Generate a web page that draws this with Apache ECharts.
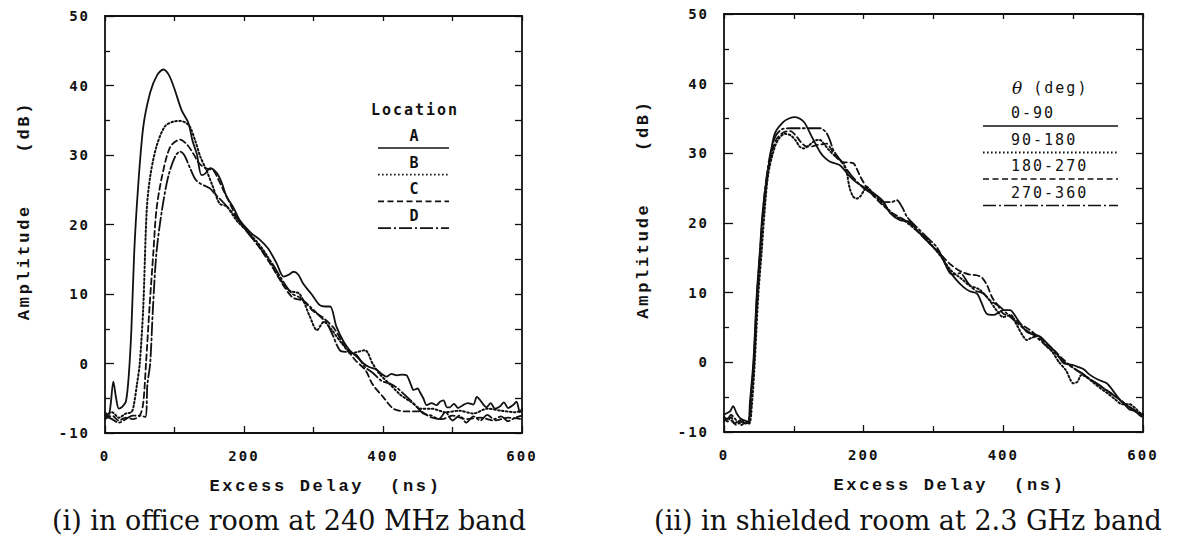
<!DOCTYPE html>
<html>
<head>
<meta charset="utf-8">
<script src="https://cdn.jsdelivr.net/npm/echarts@6/dist/echarts.min.js"></script>
<style>
html,body{margin:0;padding:0;background:#fff;}
#chart{width:1177px;height:542px;}
#chart text[style*="Liberation Mono"]{letter-spacing:2.7px;}
#chart text[style*="DejaVu Sans Mono"]{letter-spacing:2px;}
</style>
</head>
<body>
<div id="chart"></div>
<script>
// ---------- DATA ----------
const xTicks = [0, 200, 400, 600];
const yTicks = [-10, 0, 10, 20, 30, 40, 50];
const leftLegendTitle = 'Location';
const leftNames = ['A', 'B', 'C', 'D'];
const rightLegendTitle = 'θ (deg)';
const rightNames = ['0-90', '90-180', '180-270', '270-360'];
const captions = ['(i) in office room at 240 MHz band', '(ii) in shielded room at 2.3 GHz band'];

// (i) office room, 240 MHz : [delay ns, amplitude dB]
const leftA = [[0,-7],[5,-7.5],[8,-6],[12,-2.6],[16,-5],[20,-6.5],[25,-6.2],[30,-5.5],[34,-2],[38,5],[42,15.9],[47,24.5],[55,34],[65,39],[75,41.5],[84,42.3],[92,41.5],[100,39.5],[110,36.5],[120,34.6],[126,32],[132,30.2],[139,27.1],[145,27.4],[151,28.1],[161,27.4],[168,26],[175,24],[185,22.4],[194,20.6],[210,18.8],[223,17.8],[235,16.5],[247,14.4],[257,12.5],[265,12.8],[271,13.2],[278,12.8],[285,11.5],[297,10],[309,8.4],[317,8.2],[324,8.2],[333,5.3],[343,3.2],[352,1.9],[362,1],[372,0],[380,-0.5],[391,-0.9],[398,-1.5],[405,-1.9],[412,-1.5],[420,-1.7],[428,-1.6],[434,-1.7],[440,-3],[444,-3.8],[450,-3.6],[453,-4.1],[458,-5],[463,-6],[470,-5.7],[477,-6],[482,-5.5],[487,-5.3],[492,-6.3],[496,-6.3],[502,-5.8],[508,-6.4],[515,-6],[522,-5.7],[530,-5.9],[535,-4.8],[540,-5.3],[545,-6],[549,-6.3],[555,-5.7],[561,-6.5],[568,-6.2],[574,-5.6],[580,-6.4],[587,-6],[592,-5.5],[597,-7],[600,-6.5]];
const leftB = [[0,-7.5],[10,-7],[20,-7.8],[30,-7.2],[38,-7],[41,-6.2],[46,-3],[50,0],[55,8],[60,22],[65,26.9],[74,31.2],[86,34.1],[98,34.8],[108,34.9],[115,34.7],[122,34.1],[130,32],[137,29.8],[146,27.8],[155,25.5],[165,23],[175,22.6],[190,20.5],[210,18.5],[230,16],[250,12.5],[265,10.5],[280,10],[295,6.7],[305,4.8],[315,6],[325,5],[340,3],[355,1.5],[374,1.9],[385,0],[395,-1.5],[410,-3],[425,-4.5],[440,-5.5],[455,-6.5],[470,-6.5],[490,-7],[510,-6.8],[530,-7.2],[550,-6.5],[570,-6.8],[590,-7],[600,-6.8]];
const leftC = [[0,-8],[10,-7.5],[20,-8.2],[30,-7.8],[40,-8],[50,-7.5],[55,-5.7],[59,0],[64,8],[69.5,15.9],[74,22.1],[82,26.9],[94,31.2],[108,32.2],[118,31.5],[127,30.2],[134,29],[141,28.3],[148,28],[156,27.8],[163,26.5],[170,25],[180,23],[189,21.1],[205,19],[220,17],[240,14],[255,11.5],[270,9.5],[285,9],[300,7.5],[315,6.5],[330,5],[345,2.5],[360,0.5],[375,-1],[385,-3],[400,-4.8],[415,-6.5],[434,-6.9],[453,-6.9],[468,-7.7],[485,-8],[500,-7.5],[520,-8],[540,-7.8],[560,-8.2],[580,-7.8],[600,-8]];
const leftD = [[0,-7.5],[10,-8],[20,-8.5],[30,-8],[40,-7.5],[50,-7.5],[58,-7.7],[61,-3],[65,0],[69,8],[74,15.9],[82,22.1],[91,26.9],[101,29.8],[108,30.5],[114,30],[122,28.2],[130,26.5],[137,25.9],[145,25.5],[151,25.2],[160,24.2],[170,23.2],[185,21.5],[200,19.5],[220,17],[240,14.5],[252,12.5],[268.6,10.1],[280,9.5],[295,8.2],[307,7],[319,5.8],[328,4],[338,1.9],[350,1.6],[362,1.2],[374,-0.5],[386,-1.4],[398,-2.5],[410,-2.9],[420,-3.5],[429,-4.3],[443.6,-5.7],[458,-7.2],[470,-7.5],[480,-8],[490,-7],[500,-8.2],[510,-7.5],[520,-8.5],[530,-7.6],[540,-8.2],[550,-7.4],[560,-8],[570,-7.6],[580,-8.3],[590,-7.8],[600,-7.5]];

// (ii) shielded room, 2.3 GHz
const right1 = [[0,-7.5],[4,-7.3],[9,-7],[13,-6.3],[18,-7.3],[23,-8],[28,-8.3],[35,-8.5],[37,-5.9],[42,0],[47,9.9],[51.5,16.1],[54,20],[58.7,24.7],[66,29.5],[73,32.9],[85,34.5],[93,35],[101.7,35.2],[110,34.9],[116,34.3],[125.6,32.4],[137.5,30.2],[145,29.3],[152,28.8],[166,28.3],[180,26.7],[190,25.8],[199.5,25.2],[214,24.3],[228,23.1],[238,21.4],[252,20.4],[266,20.2],[276,19],[290,17.5],[300,16.5],[309,15.7],[320,13.5],[333,11.8],[343,10.8],[352,10.2],[362,9.9],[369,8.5],[376,7],[386,6.8],[394,7.2],[400,7.5],[409.6,7.5],[418,6.5],[426,5.3],[433.5,4.4],[443,4],[452.5,3.7],[462,2.8],[471.6,1.8],[479,0.9],[486,-0.1],[494,-0.3],[500,-0.4],[508,-0.7],[515,-1],[524,-1.8],[536,-2.5],[548,-3],[558,-4.2],[567,-5.4],[574,-6.1],[581,-6.8],[586,-6.9],[591,-7.2],[595,-7.6],[598,-7.8],[600,-7.5]];
const right2 = [[0,-8],[5,-8.5],[10,-7.8],[15,-8.8],[20,-8.5],[25,-9],[30,-8.7],[36,-8.8],[40,-6],[44,0],[49,9.5],[54,16],[58,21.5],[63.5,27.1],[73,31],[80,32.3],[87,32.8],[95,32.6],[103,31.8],[108,31],[113.6,30.7],[120,31],[127,31.6],[133,31.9],[137.5,31.9],[142,31.5],[150,30.5],[160,29.5],[171,28.6],[176,27.1],[180,25],[185,23.8],[190,23.5],[195,23.8],[200,24.6],[204,25.2],[215,24],[230,22.5],[245,21],[260,20.2],[275,19],[290,17.8],[300,16.5],[312,15],[325,13.2],[340,12],[352,11],[365,10.5],[378,9.2],[390,7.5],[400,6.5],[410,6.8],[420,5.2],[428,3.8],[433.5,3.2],[440,3.5],[450,3.8],[460,2.5],[470,1.5],[480,0],[490,-1.2],[496,-2.5],[500,-3],[506,-2.8],[512,-1.8],[520,-2.2],[530,-3],[540,-3.8],[550,-4.5],[560,-5.3],[570,-6],[580,-6],[588,-6.5],[595,-7.2],[600,-7.4]];
const right3 = [[0,-8.5],[6,-8],[12,-8.5],[18,-9],[24,-8.5],[30,-8.8],[36,-8.5],[39,-5],[43,0],[48,10],[52,16],[55,20],[60,25],[67,29.5],[75,32],[85,33],[95,33.2],[104,32.4],[111,31.5],[118,31],[126,31],[133,31.2],[140,31.3],[147,31.4],[154,30.5],[161,29.5],[168,28.8],[175,28.7],[185,28.6],[190,27.8],[195,26.7],[205,25],[215,23.8],[228,22.5],[240,21.5],[252,20.8],[265,20],[280,18.5],[295,17],[310,15.5],[325,14],[340,13],[352,12.6],[362,12.5],[370,12.1],[377,11],[384,9.3],[392,8.2],[400,7],[412,6.5],[425,5.5],[440,4.5],[455,3.2],[470,2],[485,0.5],[500,-0.8],[515,-1.8],[530,-2.8],[545,-3.8],[560,-4.8],[575,-6],[590,-7],[600,-7.8]];
const right4 = [[0,-7.8],[5,-8.2],[10,-7.5],[15,-8],[20,-8.5],[25,-8.2],[30,-8.8],[35,-8.5],[38,-5.5],[42.5,0],[47.5,10],[52,16.3],[55,20.5],[59,25],[66,29.8],[74,32.5],[84,33.5],[94.5,33.6],[105,33.6],[115,33.6],[127,33.6],[137.5,33.6],[142,33.4],[147,32.9],[152,31.8],[156.5,30.5],[166,29.1],[175,27.8],[185,26.5],[200,25],[215,24],[230,23],[240,23],[247,23.3],[255,22.3],[262,20.9],[275,19.5],[290,18],[305,16.5],[315,14.5],[323.6,12.8],[330,12.6],[338,12.8],[350,11.3],[360,10.3],[371,9.9],[382,8.8],[395,8],[405,7],[418,5.8],[430,4.8],[445,3.8],[460,2.5],[475,1.2],[488,0],[500,-0.8],[512,-1.5],[525,-2.5],[538,-3.3],[550,-4.2],[562,-5],[575,-6],[588,-7],[600,-7.5]];

// ---------- STYLE ----------
const INK = '#111';
const dashStyles = ['solid', [1.6, 2.4], [6, 3.5], [13, 3, 2, 3]];
const tickFont = 'DejaVu Sans Mono';
const titleFont = 'Liberation Mono';

function bottomX(grid, pad) {
  return {
    type: 'value', gridIndex: grid, min: 0, max: 600, interval: 200, position: 'bottom',
    axisLine: {show: true, onZero: false, lineStyle: {color: INK, width: 1.8}},
    axisTick: {show: true, inside: true, length: 7, lineStyle: {color: INK, width: 1.3}},
    minorTick: {show: true, splitNumber: 2, length: 6, lineStyle: {color: INK, width: 1.3}},
    splitLine: {show: false},
    axisLabel: {show: true, margin: 16, color: INK, fontFamily: tickFont, fontWeight: 'bold', fontSize: 14,
      formatter: v => (xTicks.indexOf(v) >= 0 ? String(v) : '')},
    name: 'Excess Delay  (ns)', nameLocation: 'middle', nameGap: 45,
    nameTextStyle: {color: INK, fontFamily: titleFont, fontWeight: 'bold', fontSize: 17, padding: [0, 0, 0, pad]}
  };
}
function topX(grid) {
  return {
    type: 'value', gridIndex: grid, min: 0, max: 600, interval: 100, position: 'top',
    axisLine: {show: true, onZero: false, lineStyle: {color: INK, width: 1.8}},
    axisTick: {show: true, inside: true, length: 5, lineStyle: {color: INK, width: 1.3}},
    axisLabel: {show: false}, splitLine: {show: false}
  };
}
function leftY(grid, pad) {
  return {
    type: 'value', gridIndex: grid, min: -10, max: 50, interval: 10, position: 'left',
    axisLine: {show: true, onZero: false, lineStyle: {color: INK, width: 1.8}},
    axisTick: {show: true, inside: true, length: 9, lineStyle: {color: INK, width: 1.3}},
    minorTick: {show: true, splitNumber: 2, length: 5, lineStyle: {color: INK, width: 1.3}},
    splitLine: {show: false},
    axisLabel: {show: true, margin: 15, color: INK, fontFamily: tickFont, fontWeight: 'bold', fontSize: 14,
      formatter: v => (yTicks.indexOf(v) >= 0 ? String(v) : '')},
    name: 'Amplitude    (dB)', nameLocation: 'middle', nameGap: 72, nameRotate: 90,
    nameTextStyle: {color: INK, fontFamily: titleFont, fontWeight: 'bold', fontSize: 17, padding: [0, 0, 0, pad]}
  };
}
function rightY(grid) {
  return {
    type: 'value', gridIndex: grid, min: -10, max: 50, interval: 5, position: 'right',
    axisLine: {show: true, onZero: false, lineStyle: {color: INK, width: 1.8}},
    axisTick: {show: true, inside: true, length: 7, lineStyle: {color: INK, width: 1.3}},
    axisLabel: {show: false}, splitLine: {show: false}
  };
}

function mkSeries(name, data, k, xi, yi) {
  return {
    type: 'line', name: name, data: data, xAxisIndex: xi, yAxisIndex: yi,
    showSymbol: false, symbol: 'none', smooth: 0.3, animation: false, silent: true,
    lineStyle: {color: INK, width: k === 1 ? 2 : 1.8, type: dashStyles[k], cap: 'round'},
    z: 5
  };
}

const leftSets = [leftA, leftB, leftC, leftD];
const rightSets = [right1, right2, right3, right4];
const series = [];
leftSets.forEach((d, k) => series.push(mkSeries(leftNames[k], d, k, 0, 0)));
rightSets.forEach((d, k) => series.push(mkSeries(rightNames[k], d, k, 1, 1)));

// ---------- LEGENDS (drawn as graphic text + sample lines) ----------
const graphics = [];
function legendLine(x1, x2, y, k) {
  graphics.push({type: 'line', shape: {x1: x1, y1: y, x2: x2, y2: y},
    style: {stroke: INK, lineWidth: k === 1 ? 1.8 : 1.6, lineDash: k === 0 ? null : dashStyles[k]}});
}
graphics.push({type: 'text', x: 415, y: 110, style: {text: leftLegendTitle, align: 'center', verticalAlign: 'middle',
  fill: INK, font: 'bold 15px "DejaVu Sans Mono"'}});
leftNames.forEach((n, k) => {
  const yT = 136 + k * 26.7;
  graphics.push({type: 'text', x: 415, y: yT, style: {text: n, align: 'center', verticalAlign: 'middle',
    fill: INK, font: 'bold 15px "DejaVu Sans Mono"'}});
  legendLine(378, 449, yT + 12, k);
});
graphics.push({type: 'text', x: 1012, y: 88, style: {text: '{t|θ} (deg)', align: 'left', verticalAlign: 'middle',
  fill: INK, font: '15px "DejaVu Sans Mono"',
  rich: {t: {fontFamily: 'DejaVu Serif', fontStyle: 'italic', fontSize: 17, fill: INK}}}});
rightNames.forEach((n, k) => {
  const yT = 113 + k * 26.5;
  graphics.push({type: 'text', x: 1011, y: yT, style: {text: n, align: 'left', verticalAlign: 'middle',
    fill: INK, font: '15px "DejaVu Sans Mono"'}});
  legendLine(983, 1118, yT + 13, k);
});
// captions
graphics.push({type: 'text', x: 289, y: 520, style: {text: captions[0], align: 'center', verticalAlign: 'middle',
  fill: INK, font: '27px "DejaVu Serif"'}});
graphics.push({type: 'text', x: 908, y: 520, style: {text: captions[1], align: 'center', verticalAlign: 'middle',
  fill: INK, font: '27px "DejaVu Serif"'}});

const option = {
  backgroundColor: '#fff',
  animation: false,
  grid: [
    {left: 105, top: 16, width: 417, height: 417, show: false},
    {left: 724, top: 14, width: 419, height: 418, show: false}
  ],
  xAxis: [bottomX(0, 24), bottomX(1, 32), topX(0), topX(1)],
  yAxis: [leftY(0, 28), leftY(1, 28), rightY(0), rightY(1)],
  series: series,
  graphic: graphics
};

const chart = echarts.init(document.getElementById('chart'), null, {renderer: 'svg', width: 1177, height: 542});
chart.setOption(option);
</script>
</body>
</html>
